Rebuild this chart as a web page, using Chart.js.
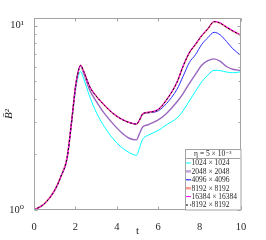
<!DOCTYPE html>
<html>
<head>
<meta charset="utf-8">
<script src="https://cdn.jsdelivr.net/npm/chart.js@4.4.1/dist/chart.umd.min.js"></script>
<style>
  html, body { margin: 0; padding: 0; background: #fff; }
  canvas { display: block; }
</style>
</head>
<body>
<canvas id="chart" width="266" height="240"></canvas>
<script>
// sample times (t)
const times = [0, 0.5, 1.0, 1.3, 1.6, 1.8, 2.0, 2.1, 2.25, 2.4, 2.7, 3.0, 3.4, 3.8, 4.2, 4.6, 4.95, 5.1, 5.25, 5.5,
    6.0, 6.4, 6.9, 7.2, 7.5, 7.8, 8.1, 8.4, 8.7, 9.0, 9.3, 9.6, 10];

// mean B^2 per resolution
const b1024 = [1.0, 1.08, 1.28, 1.52, 1.92, 2.85, 4.4, 5.1, 5.63, 5.15, 4.1, 3.4, 2.83, 2.45, 2.2, 2.05, 1.98, 2.18, 2.42, 2.54,
    2.7, 2.9, 3.15, 3.45, 3.9, 4.4, 4.95, 5.4, 5.72, 5.7, 5.6, 5.55, 5.62];
const b2048 = [1.0, 1.08, 1.28, 1.52, 1.92, 2.9, 4.6, 5.4, 6.05, 5.5, 4.45, 3.9, 3.34, 2.95, 2.65, 2.45, 2.4, 2.6, 2.82, 2.9,
    3.08, 3.34, 3.85, 4.28, 4.85, 5.45, 6.1, 6.45, 6.6, 6.4, 6.0, 5.8, 5.72];
const b4096 = [1.0, 1.08, 1.28, 1.52, 1.92, 2.9, 4.6, 5.4, 6.08, 5.65, 4.64, 4.15, 3.7, 3.35, 3.12, 2.98, 2.92, 3.08, 3.3, 3.36,
    3.45, 3.78, 4.5, 5.3, 6.3, 6.95, 7.9, 8.6, 9.2, 8.9, 8.2, 7.5, 6.88];
const b8192 = [1.0, 1.08, 1.28, 1.52, 1.92, 2.9, 4.6, 5.4, 6.08, 5.65, 4.64, 4.15, 3.7, 3.35, 3.12, 2.98, 2.92, 3.08, 3.32, 3.38,
    3.5, 3.95, 4.9, 6.0, 7.1, 7.9, 8.8, 9.6, 10.5, 10.3, 9.8, 9.35, 8.84];
const b16384 = [1.0, 1.08, 1.28, 1.52, 1.92, 2.9, 4.6, 5.4, 6.1, 5.66, 4.65, 4.16, 3.71, 3.36, 3.13, 2.99, 2.93, 3.09, 3.33, 3.39,
    3.52, 3.97, 4.93, 6.05, 7.15, 7.95, 8.85, 9.65, 10.55, 10.35, 9.85, 9.4, 8.9];

const seriesLabels = ["1024 × 1024", "2048 × 2048", "4096 × 4096", "8192 × 8192", "16384 × 16384", "8192 × 8192"];
const legendTitle = "η = 5 × 10⁻³";
const xTicks = [0, 2, 4, 6, 8, 10];
const yTicks = [1, 10];
const yTickLabels = ["10⁰", "10¹"];
const yMinorTicks = [2, 3, 4, 5, 6, 7, 8, 9];

const pts = (vals) => times.map((t, i) => ({ x: t, y: vals[i] }));

const AXIS = "#a3a3a3";
const TEXT = "#262626";
const SERIF = "'Liberation Serif', 'DejaVu Serif', serif";

const styles = [
    { color: "#00ffff", width: 1, dash: [] },
    { color: "rgba(135,75,180,0.85)", width: 1.4, dash: [] },
    { color: "#2a2aff", width: 1, dash: [] },
    { color: "#ff8a80", width: 1.6, dash: [] },
    { color: "#ff00ff", width: 1, dash: [] },
    { color: "#000000", width: 1, dash: [2, 2] },
];
const legendSwatch = [
    { color: "#00ffff", width: 1 },
    { color: "#c4a6d8", width: 2.5 },
    { color: "#0000ff", width: 1 },
    { color: "#ff9a90", width: 2.5 },
    { color: "#ff00ff", width: 1 },
    { color: "#000000", width: 1, dash: [2, 2] },
];

const seriesData = [b1024, b2048, b4096, b8192, b16384, b8192];
const drawOrder = [5, 4, 3, 2, 1, 0];

const framePlugin = {
    id: "frame",
    afterDraw(chart) {
        const ctx = chart.ctx;
        const a = chart.chartArea;
        const xs = chart.scales.x;
        const ys = chart.scales.y;
        ctx.save();
        ctx.strokeStyle = AXIS;
        ctx.lineWidth = 1;
        ctx.setLineDash([]);
        const L = Math.round(a.left) + 0.5, R = Math.round(a.right) - 0.5;
        const T = Math.round(a.top) + 0.5, B = Math.round(a.bottom) - 0.5;
        ctx.strokeRect(L, T, R - L, B - T);
        ctx.beginPath();
        xTicks.forEach((v) => {
            const px = Math.round(xs.getPixelForValue(v)) + 0.5;
            ctx.moveTo(px, B); ctx.lineTo(px, B - 3);
            ctx.moveTo(px, T); ctx.lineTo(px, T + 3);
        });
        yTicks.forEach((v) => {
            const py = Math.round(ys.getPixelForValue(v)) + 0.5;
            ctx.moveTo(L, py); ctx.lineTo(L + 3, py);
            ctx.moveTo(R, py); ctx.lineTo(R - 3, py);
        });
        yMinorTicks.forEach((v) => {
            const py = Math.round(ys.getPixelForValue(v)) + 0.5;
            ctx.moveTo(L, py); ctx.lineTo(L + 2, py);
            ctx.moveTo(R, py); ctx.lineTo(R - 2, py);
        });
        ctx.stroke();

        // axis titles
        ctx.fillStyle = TEXT;
        ctx.textAlign = "center";
        ctx.textBaseline = "middle";
        ctx.font = "11px " + SERIF;
        ctx.fillText("t", (a.left + a.right) / 2, 231);
        ctx.save();
        ctx.translate(9, (a.top + a.bottom) / 2);
        ctx.rotate(-Math.PI / 2);
        ctx.font = "italic 11px " + SERIF;
        ctx.fillText("B\u0304²", 0, 0);
        ctx.restore();

        // legend box
        const lx = 185, ly = 149, lw = R - lx, lh = B - ly;
        ctx.fillStyle = "#fff";
        ctx.fillRect(lx + 0.5, ly + 0.5, lw, lh);
        ctx.strokeStyle = AXIS;
        ctx.strokeRect(lx + 0.5, ly + 0.5, lw, lh);
        ctx.beginPath();
        ctx.moveTo(lx + 0.5, 158.5); ctx.lineTo(R, 158.5);
        ctx.stroke();
        ctx.fillStyle = TEXT;
        ctx.font = "7.5px " + SERIF;
        ctx.textAlign = "center";
        ctx.fillText(legendTitle, lx + lw / 2, 154);
        ctx.textAlign = "left";
        seriesLabels.forEach((lab, i) => {
            const yy = 163 + i * 8.4;
            const sw = legendSwatch[i];
            ctx.strokeStyle = sw.color;
            ctx.lineWidth = sw.width;
            ctx.setLineDash(sw.dash || []);
            ctx.beginPath();
            ctx.moveTo(186, yy); ctx.lineTo(191, yy);
            ctx.stroke();
            ctx.fillStyle = TEXT;
            ctx.fillText(lab, 191.5, yy + 0.5);
        });
        ctx.restore();
    },
};

new Chart(document.getElementById("chart"), {
    type: "line",
    data: {
        datasets: seriesData.map((vals, i) => ({
            label: seriesLabels[i],
            data: pts(vals),
            borderColor: styles[i].color,
            borderWidth: styles[i].width,
            borderDash: styles[i].dash,
            pointRadius: 0,
            fill: false,
            cubicInterpolationMode: "monotone",
            order: drawOrder[i],
        })),
    },
    options: {
        responsive: false,
        animation: false,
        events: [],
        layout: { padding: { top: 18, right: 25, left: 0, bottom: 0 } },
        plugins: { legend: { display: false }, tooltip: { enabled: false } },
        scales: {
            x: {
                type: "linear",
                min: 0,
                max: 10,
                afterBuildTicks: (s) => { s.ticks = xTicks.map((v) => ({ value: v })); },
                afterFit: (s) => { s.height = 30; },
                grid: { display: false },
                border: { display: false },
                ticks: { color: TEXT, font: { family: SERIF, size: 10.5 }, padding: 3, maxRotation: 0 },
            },
            y: {
                type: "logarithmic",
                min: 1,
                max: 11,
                afterBuildTicks: (s) => { s.ticks = yTicks.map((v) => ({ value: v })); },
                afterFit: (s) => { s.width = 34; },
                grid: { display: false },
                border: { display: false },
                ticks: {
                    color: TEXT,
                    font: { family: SERIF, size: 10.5 },
                    padding: 2,
                    callback: (v) => yTickLabels[yTicks.indexOf(v)],
                },
            },
        },
    },
    plugins: [framePlugin],
});
</script>
</body>
</html>
